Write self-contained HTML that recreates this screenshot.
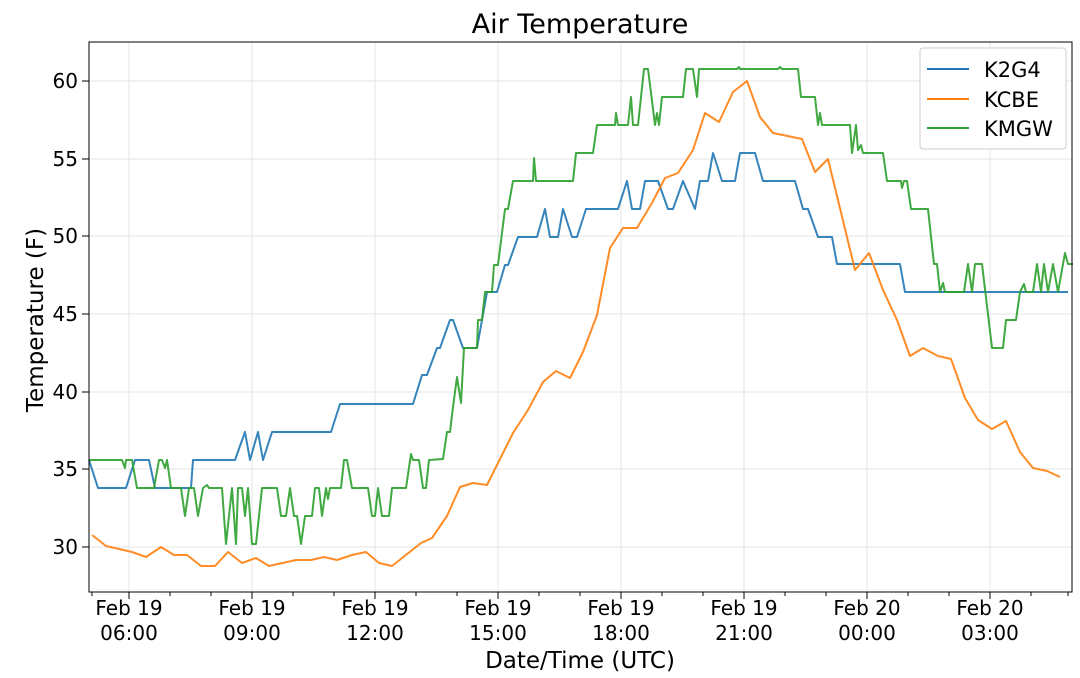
<!DOCTYPE html>
<html><head><meta charset="utf-8"><style>body{margin:0;background:#fff}svg{display:block;font-family:"DejaVu Sans","Liberation Sans",sans-serif}</style></head><body>
<svg width="1080" height="678" viewBox="0 0 1080 678">
<rect width="1080" height="678" fill="#fff"/>
<g stroke="#e6e6e6" stroke-width="1">
<line x1="129" y1="42" x2="129" y2="592"/><line x1="252" y1="42" x2="252" y2="592"/><line x1="375" y1="42" x2="375" y2="592"/><line x1="498" y1="42" x2="498" y2="592"/><line x1="621" y1="42" x2="621" y2="592"/><line x1="744" y1="42" x2="744" y2="592"/><line x1="867" y1="42" x2="867" y2="592"/><line x1="990" y1="42" x2="990" y2="592"/>
<line x1="89" y1="81" x2="1072" y2="81"/><line x1="89" y1="159" x2="1072" y2="159"/><line x1="89" y1="236" x2="1072" y2="236"/><line x1="89" y1="314" x2="1072" y2="314"/><line x1="89" y1="392" x2="1072" y2="392"/><line x1="89" y1="469" x2="1072" y2="469"/><line x1="89" y1="547" x2="1072" y2="547"/>
</g>
<g fill="none" stroke-width="2" stroke-linejoin="round" stroke-opacity="0.9">
<polyline stroke="#1f77b4" points="89,460 98,488 126,488 135,460 149,460 155,488 191,488 193,460 235,460 245,432 250,460 258,432 263,460 272,432 331,432 340,404 413,404 422,375 427,375 437,348 440,348 450,320 453,320 463,348 477,348 487,292 497,292 505,265 508,265 518,237 537,237 545,209 550,237 558,237 563,209 572,237 577,237 586,209 618,209 627,181 632,209 640,209 645,181 658,181 668,209 673,209 683,181 695,209 700,181 708,181 713,153 722,181 735,181 740,153 755,153 763,181 795,181 803,209 808,209 818,237 832,237 837,264 900,264 905,292 1068,292"/>
<polyline stroke="#ff7f0e" points="92,535 106,546 132,552 146,557 161,547 174,555 187,555 201,566 215,566 228,552 242,563 256,558 269,566 296,560 311,560 324,557 337,560 352,555 366,552 379,563 392,566 421,543 432,538 447,516 460,487 473,483 487,485 513,433 528,410 543,382 556,371 570,378 583,352 597,315 610,248 623,228 637,228 652,203 665,178 678,173 693,150 705,113 719,122 733,92 747,81 760,117 773,133 802,139 815,172 828,159 855,270 869,253 883,290 897,320 910,356 923,348 938,356 951,359 965,398 978,420 992,429 1006,421 1020,452 1033,468 1047,471 1060,477"/>
<polyline stroke="#2ca02c" points="89,460 122,460 125,468 126,460 132,460 137,488 154,488 159,460 162,460 165,468 167,460 171,488 181,488 185,516 189,488 194,488 198,516 203,488 207,485 209,488 222,488 226,544 232,488 236,544 238,488 242,488 245,516 248,488 252,544 256,544 262,488 277,488 281,516 286,516 290,488 294,516 297,516 301,544 305,516 312,516 315,488 319,488 322,516 326,488 328,499 330,488 341,488 344,460 347,460 352,488 368,488 372,516 375,516 378,488 382,516 389,516 392,488 406,488 411,454 413,460 419,460 423,488 426,488 429,460 443,459 447,432 450,432 453,407 457,377 461,403 464,348 477,348 478,320 482,320 485,292 492,292 494,265 498,265 505,209 508,209 513,181 533,181 534,158 536,181 573,181 576,153 593,153 597,125 615,125 616,113 618,125 628,125 631,97 633,125 638,125 644,69 648,69 655,125 657,113 659,125 662,97 683,97 686,69 693,69 697,97 699,69 737,69 739,67 740,69 778,69 780,67 782,69 798,69 801,97 815,97 818,125 820,113 822,125 850,125 852,153 856,125 858,150 861,145 863,153 883,153 887,181 901,181 902,188 904,181 907,181 911,209 928,209 934,264 937,264 940,292 943,283 945,292 964,292 968,264 972,292 975,264 982,264 992,348 1003,348 1006,320 1016,320 1020,292 1024,284 1026,292 1033,292 1037,264 1041,292 1044,264 1048,292 1053,264 1058,292 1065,253 1068,264 1073,264"/>
</g>
<rect x="89" y="42" width="983" height="550" fill="none" stroke="#000" stroke-width="1"/>
<g stroke="#000" stroke-width="1">
<line x1="129" y1="592" x2="129" y2="599"/><line x1="252" y1="592" x2="252" y2="599"/><line x1="375" y1="592" x2="375" y2="599"/><line x1="498" y1="592" x2="498" y2="599"/><line x1="621" y1="592" x2="621" y2="599"/><line x1="744" y1="592" x2="744" y2="599"/><line x1="867" y1="592" x2="867" y2="599"/><line x1="990" y1="592" x2="990" y2="599"/>
<line x1="170" y1="592" x2="170" y2="596"/><line x1="211" y1="592" x2="211" y2="596"/><line x1="293" y1="592" x2="293" y2="596"/><line x1="334" y1="592" x2="334" y2="596"/><line x1="416" y1="592" x2="416" y2="596"/><line x1="457" y1="592" x2="457" y2="596"/><line x1="539" y1="592" x2="539" y2="596"/><line x1="580" y1="592" x2="580" y2="596"/><line x1="662" y1="592" x2="662" y2="596"/><line x1="703" y1="592" x2="703" y2="596"/><line x1="785" y1="592" x2="785" y2="596"/><line x1="826" y1="592" x2="826" y2="596"/><line x1="908" y1="592" x2="908" y2="596"/><line x1="949" y1="592" x2="949" y2="596"/><line x1="1031" y1="592" x2="1031" y2="596"/><line x1="1068" y1="592" x2="1068" y2="596"/><line x1="92" y1="592" x2="92" y2="596"/>
<line x1="82" y1="81" x2="89" y2="81"/><line x1="82" y1="159" x2="89" y2="159"/><line x1="82" y1="236" x2="89" y2="236"/><line x1="82" y1="314" x2="89" y2="314"/><line x1="82" y1="392" x2="89" y2="392"/><line x1="82" y1="469" x2="89" y2="469"/><line x1="82" y1="547" x2="89" y2="547"/>
</g>
<g font-size="20" text-anchor="end" fill="#000">
<text x="78" y="88">60</text><text x="78" y="166">55</text><text x="78" y="243">50</text><text x="78" y="321">45</text><text x="78" y="399">40</text><text x="78" y="476">35</text><text x="78" y="554">30</text>
</g>
<g font-size="20" text-anchor="middle" fill="#000">
<text x="129" y="615">Feb 19</text><text x="129" y="640">06:00</text>
<text x="252" y="615">Feb 19</text><text x="252" y="640">09:00</text>
<text x="375" y="615">Feb 19</text><text x="375" y="640">12:00</text>
<text x="498" y="615">Feb 19</text><text x="498" y="640">15:00</text>
<text x="621" y="615">Feb 19</text><text x="621" y="640">18:00</text>
<text x="744" y="615">Feb 19</text><text x="744" y="640">21:00</text>
<text x="867" y="615">Feb 20</text><text x="867" y="640">00:00</text>
<text x="990" y="615">Feb 20</text><text x="990" y="640">03:00</text>
<text x="580" y="668" font-size="23">Date/Time (UTC)</text>
<text x="580" y="33" font-size="27">Air Temperature</text>
</g>
<text transform="translate(43,320) rotate(-90)" font-size="23" text-anchor="middle">Temperature (F)</text>
<rect x="920" y="48" width="146" height="101" rx="3" fill="#fff" stroke="#ccc"/>
<g stroke-width="2"><line x1="927" y1="69" x2="969" y2="69" stroke="#1f77b4"/><line x1="927" y1="99" x2="969" y2="99" stroke="#ff7f0e"/><line x1="927" y1="128" x2="969" y2="128" stroke="#2ca02c"/></g>
<g font-size="21"><text x="984" y="77">K2G4</text><text x="984" y="107">KCBE</text><text x="984" y="136">KMGW</text></g>
</svg>
</body></html>
